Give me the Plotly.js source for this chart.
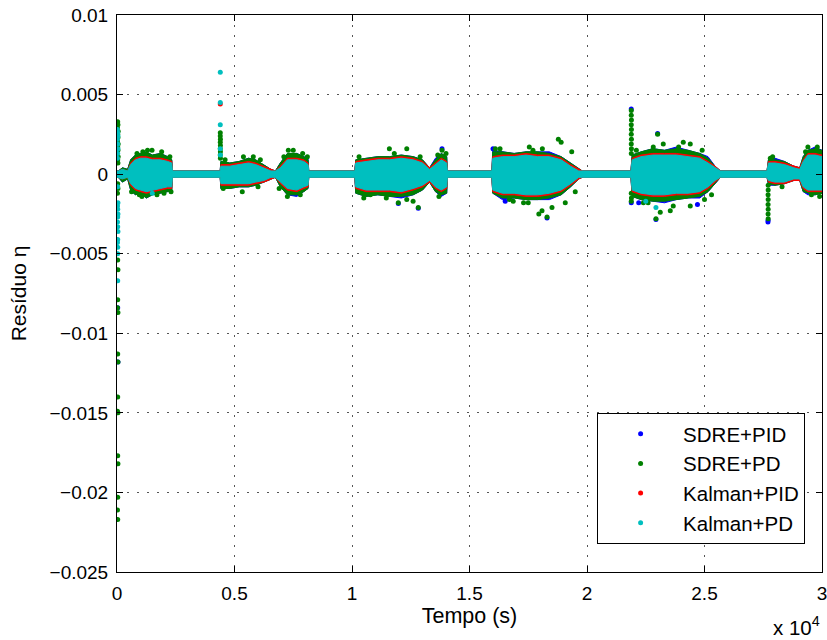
<!DOCTYPE html>
<html><head><meta charset="utf-8">
<script src="https://cdn.plot.ly/plotly-3.0.1.min.js"></script>
<style>html,body{margin:0;padding:0;background:#fff}</style>
</head><body><div id="chart" style="width:827px;height:640px"></div>
<script>
// ---------- data ----------
const seriesNames = ['SDRE+PID', 'SDRE+PD', 'Kalman+PID', 'Kalman+PD'];

// tick positions and labels
const xTickVals = [0, 5000, 10000, 15000, 20000, 25000, 30000];
const xTickLabels = ['0', '0.5', '1', '1.5', '2', '2.5', '3'];
const yTickVals = [0.01, 0.005, 0, -0.005, -0.01, -0.015, -0.02, -0.025];
const yTickLabels = ['0.01', '0.005', '0', '\u22120.005', '\u22120.01', '\u22120.015', '\u22120.02', '\u22120.025'];

// envelope knots (time, s) of the dense residual cloud
const envT = [
  0, 60, 230, 450, 580, 780, 1000, 1250, 1500, 1850, 2150, 2330, 2360,
  4390, 4420, 4800, 5200, 5600, 5900, 6250, 6550, 6740, 6950, 7250, 7650, 7950, 8130, 8160,
  10120, 10160, 10600, 11100, 11600, 12100, 12600, 13000, 13300, 13550, 13800, 14030, 14060,
  15950, 15990, 16400, 16900, 17400, 17900, 18400, 18900, 19300, 19650, 19800,
  21870, 21920, 22300, 22800, 23300, 23800, 24300, 24800, 25150, 25450, 25680,
  27660, 27720, 28000, 28400, 28800, 29050, 29200, 29400, 29700, 30000
];

// SDRE+PID envelope
const sdrePidUp = [
  0.0002, 0.0002, 0.0004, 0.0003, 0.0009, 0.0012, 0.0013, 0.0014, 0.0012, 0.0013, 0.0011, 0.0009, 0.0002,
  0.0002, 0.0008, 0.0007, 0.0008, 0.0010, 0.0009, 0.0006, 0.0003, 0.0002, 0.0007, 0.0013, 0.0013, 0.0011, 0.0010, 0.0002,
  0.0002, 0.0009, 0.0010, 0.0011, 0.0011, 0.0012, 0.0011, 0.0009, 0.0004, 0.0010, 0.0013, 0.0011, 0.0002,
  0.0002, 0.0015, 0.0014, 0.0013, 0.0014, 0.0014, 0.0014, 0.0011, 0.0007, 0.0003, 0.0002,
  0.0002, 0.0012, 0.0014, 0.0016, 0.0015, 0.0017, 0.0015, 0.0013, 0.0011, 0.0005, 0.0002,
  0.0002, 0.0009, 0.0010, 0.0008, 0.0005, 0.0004, 0.0011, 0.0015, 0.0017, 0.0015
];
const sdrePidLo = [
  -0.0002, -0.0002, -0.0005, -0.0003, -0.0010, -0.0013, -0.0012, -0.0015, -0.0013, -0.0012, -0.0011, -0.0010, -0.0002,
  -0.0002, -0.0009, -0.0009, -0.0008, -0.0008, -0.0007, -0.0005, -0.0003, -0.0002, -0.0008, -0.0013, -0.0014, -0.0011, -0.0009, -0.0002,
  -0.0002, -0.0012, -0.0014, -0.0013, -0.0014, -0.0015, -0.0013, -0.0010, -0.0005, -0.0011, -0.0014, -0.0012, -0.0002,
  -0.0002, -0.0012, -0.0016, -0.0015, -0.0016, -0.0016, -0.0016, -0.0013, -0.0008, -0.0003, -0.0002,
  -0.0002, -0.0014, -0.0016, -0.0017, -0.0018, -0.0016, -0.0015, -0.0015, -0.0011, -0.0006, -0.0002,
  -0.0002, -0.0007, -0.0007, -0.0006, -0.0004, -0.0004, -0.0011, -0.0013, -0.0013, -0.0012
];

// SDRE+PD envelope
const sdrePdUp = [
  0.0002, 0.0002, 0.0004, 0.0003, 0.0009, 0.0012, 0.0013, 0.0014, 0.0012, 0.0013, 0.0011, 0.0009, 0.0002,
  0.0002, 0.0008, 0.0007, 0.0008, 0.0010, 0.0009, 0.0006, 0.0003, 0.0002, 0.0007, 0.0013, 0.0013, 0.0011, 0.0009, 0.0002,
  0.0002, 0.0009, 0.0010, 0.0011, 0.0011, 0.0012, 0.0011, 0.0009, 0.0004, 0.0009, 0.0013, 0.0011, 0.0002,
  0.0002, 0.0014, 0.0014, 0.0013, 0.0014, 0.0014, 0.0013, 0.0011, 0.0007, 0.0003, 0.0002,
  0.0002, 0.0012, 0.0014, 0.0016, 0.0015, 0.0016, 0.0015, 0.0013, 0.0010, 0.0005, 0.0002,
  0.0002, 0.0009, 0.0009, 0.0008, 0.0005, 0.0004, 0.0011, 0.0015, 0.0016, 0.0015
];
const sdrePdLo = [
  -0.0002, -0.0002, -0.0005, -0.0003, -0.0010, -0.0013, -0.0012, -0.0015, -0.0013, -0.0012, -0.0011, -0.0010, -0.0002,
  -0.0002, -0.0009, -0.0009, -0.0008, -0.0008, -0.0007, -0.0005, -0.0003, -0.0002, -0.0008, -0.0013, -0.0013, -0.0011, -0.0009, -0.0002,
  -0.0002, -0.0012, -0.0014, -0.0013, -0.0014, -0.0014, -0.0013, -0.0010, -0.0005, -0.0011, -0.0013, -0.0012, -0.0002,
  -0.0002, -0.0012, -0.0015, -0.0015, -0.0016, -0.0016, -0.0015, -0.0013, -0.0008, -0.0003, -0.0002,
  -0.0002, -0.0014, -0.0016, -0.0017, -0.0017, -0.0016, -0.0015, -0.0014, -0.0011, -0.0006, -0.0002,
  -0.0002, -0.0006, -0.0007, -0.0006, -0.0004, -0.0004, -0.0011, -0.0012, -0.0013, -0.0012
];

// Kalman+PID envelope
const kalPidUp = [
  0.0002, 0.0002, 0.0003, 0.0002, 0.0007, 0.0010, 0.0011, 0.0011, 0.0010, 0.0010, 0.0009, 0.0008, 0.0002,
  0.0002, 0.0006, 0.0006, 0.0007, 0.0008, 0.0007, 0.0005, 0.0003, 0.0002, 0.0005, 0.0010, 0.0010, 0.0009, 0.0007, 0.0002,
  0.0002, 0.0008, 0.0009, 0.0010, 0.0010, 0.0011, 0.0010, 0.0008, 0.0004, 0.0007, 0.0010, 0.0008, 0.0002,
  0.0002, 0.0011, 0.0012, 0.0012, 0.0013, 0.0012, 0.0012, 0.0010, 0.0006, 0.0003, 0.0002,
  0.0002, 0.0010, 0.0012, 0.0013, 0.0013, 0.0013, 0.0012, 0.0011, 0.0008, 0.0005, 0.0002,
  0.0002, 0.0008, 0.0008, 0.0007, 0.0005, 0.0004, 0.0009, 0.0013, 0.0013, 0.0012
];
const kalPidLo = [
  -0.0002, -0.0002, -0.0003, -0.0002, -0.0007, -0.0010, -0.0011, -0.0012, -0.0011, -0.0010, -0.0009, -0.0009, -0.0002,
  -0.0002, -0.0007, -0.0007, -0.0007, -0.0007, -0.0006, -0.0005, -0.0003, -0.0002, -0.0006, -0.0010, -0.0011, -0.0009, -0.0008, -0.0002,
  -0.0002, -0.0009, -0.0011, -0.0011, -0.0011, -0.0012, -0.0010, -0.0008, -0.0005, -0.0009, -0.0011, -0.0009, -0.0002,
  -0.0002, -0.0011, -0.0013, -0.0013, -0.0014, -0.0014, -0.0013, -0.0011, -0.0007, -0.0003, -0.0002,
  -0.0002, -0.0011, -0.0013, -0.0014, -0.0014, -0.0013, -0.0013, -0.0012, -0.0009, -0.0005, -0.0002,
  -0.0002, -0.0005, -0.0006, -0.0006, -0.0004, -0.0004, -0.0009, -0.0011, -0.0011, -0.0011
];

// Kalman+PD envelope
const kalPdUp = [
  0.0002, 0.0002, 0.0003, 0.0002, 0.0006, 0.0009, 0.0010, 0.0010, 0.0009, 0.0009, 0.0008, 0.0007, 0.0002,
  0.0002, 0.0005, 0.0005, 0.0006, 0.0007, 0.0006, 0.0004, 0.0002, 0.0002, 0.0004, 0.0009, 0.0009, 0.0008, 0.0006, 0.0002,
  0.0002, 0.0007, 0.0008, 0.0009, 0.0009, 0.0010, 0.0009, 0.0007, 0.0003, 0.0006, 0.0009, 0.0007, 0.0002,
  0.0002, 0.0010, 0.0011, 0.0011, 0.0012, 0.0011, 0.0011, 0.0009, 0.0005, 0.0002, 0.0002,
  0.0002, 0.0009, 0.0011, 0.0012, 0.0012, 0.0012, 0.0011, 0.0010, 0.0007, 0.0004, 0.0002,
  0.0002, 0.0007, 0.0007, 0.0006, 0.0004, 0.0003, 0.0008, 0.0012, 0.0012, 0.0011
];
const kalPdLo = [
  -0.0002, -0.0002, -0.0003, -0.0002, -0.0006, -0.0009, -0.0010, -0.0011, -0.0010, -0.0009, -0.0008, -0.0008, -0.0002,
  -0.0002, -0.0006, -0.0006, -0.0006, -0.0006, -0.0005, -0.0004, -0.0002, -0.0002, -0.0005, -0.0009, -0.0010, -0.0008, -0.0007, -0.0002,
  -0.0002, -0.0008, -0.0010, -0.0010, -0.0010, -0.0011, -0.0009, -0.0007, -0.0004, -0.0008, -0.0010, -0.0008, -0.0002,
  -0.0002, -0.0010, -0.0012, -0.0012, -0.0013, -0.0013, -0.0012, -0.0010, -0.0006, -0.0002, -0.0002,
  -0.0002, -0.0010, -0.0012, -0.0013, -0.0013, -0.0012, -0.0012, -0.0011, -0.0008, -0.0004, -0.0002,
  -0.0002, -0.0004, -0.0005, -0.0005, -0.0003, -0.0003, -0.0008, -0.0010, -0.0010, -0.0010
];

// isolated samples outside the dense cloud
const sdrePidPtT = [30, 40, 21884, 21884, 27700, 27705, 13830, 16520, 24700, 22934, 11970, 23005, 12820, 18300, 16000, 22200];
const sdrePidPtY = [-0.0084, -0.0118, 0.0041, -0.0018, -0.0030, -0.0029, 0.0016, -0.0017, -0.0019, -0.00285, -0.00185, 0.00255, -0.00215, -0.00275, 0.0016, -0.0018];

const sdrePdPtT = [
  30, 40, 20, 50, 30, 40, 20, 50, 30, 40, 20, 50, 30, 40, 30, 40, 20,
  30, 40, 30, 20, 40, 30, 40, 30, 20, 40, 30, 40, 30, 20, 30,
  4395, 4395, 4400, 4395, 4400, 4395, 4400, 4395, 4400,
  1100, 1490, 1300, 950, 1060, 1700, 2000, 1900, 620, 2250, 2300, 850,
  5380, 5800, 4520, 5330, 7290, 7500, 7250, 7800, 7900, 4600, 6100, 6900, 8100, 7100, 6000,
  11590, 12330, 13830, 13650, 11970, 12820, 12330, 12600, 10780, 11460, 10300, 10500, 12900, 13700, 14000, 11800,
  18780, 18900, 17545, 19350, 16300, 18300, 18085, 17950, 18510, 16860, 19075, 17300, 16100, 16700, 17700, 19500, 18100, 17500,
  23005, 23245, 24096, 24394, 22820, 22934, 23117, 23543, 23670, 24394, 22400, 22100, 22600, 24900, 25300, 25000, 23900,
  21884, 21884, 21890, 21884, 21890, 21884, 21890, 21884, 21890, 21884, 21884, 21890, 21884,
  27710, 27710, 27705, 27710, 27705, 27710, 27705, 27710,
  29400, 29800, 29550, 27800, 27900, 28300, 29300, 29900
];
const sdrePdPtY = [
  0.0033, 0.0031, 0.0029, 0.0027, 0.0025, 0.0023, 0.0021, 0.0019, 0.0017, 0.0015, 0.0013, 0.0011, 0.0009, 0.0007, -0.0006, -0.0009, -0.0012,
  -0.0054, -0.0060, -0.0079, -0.0084, -0.0087, -0.0113, -0.0118, -0.0140, -0.0149, -0.0150, -0.0177, -0.0182, -0.0203, -0.0211, -0.0217,
  0.0026, 0.0024, 0.0022, 0.0020, 0.0018, 0.0016, 0.0014, 0.0012, 0.0010,
  0.0014, 0.0015, 0.0015, -0.0013, -0.0014, -0.0013, -0.0012, 0.0014, -0.0011, 0.0011, -0.0011, 0.0013,
  0.0011, 0.0011, -0.0009, -0.0011, 0.0015, 0.0015, -0.0014, -0.0013, 0.0013, 0.0009, 0.0009, -0.0009, 0.0011, 0.0011, -0.0008,
  0.0016, 0.0016, 0.0015, 0.0012, -0.0018, -0.0021, -0.0016, -0.0017, -0.0013, -0.0015, 0.0011, -0.0015, 0.0011, -0.0014, 0.0013, 0.0013,
  0.0022, 0.0020, 0.0017, 0.0014, 0.0016, -0.0027, -0.0023, -0.0025, -0.0021, -0.0017, -0.0018, -0.0018, 0.0016, -0.0016, 0.0015, -0.0011, 0.0016, -0.0018,
  0.0025, 0.0019, 0.0020, 0.0019, 0.0017, -0.0028, -0.0024, -0.0023, -0.0020, -0.0020, -0.0018, 0.0015, -0.0018, 0.0015, -0.0013, -0.0016, 0.0017,
  0.0040, 0.0037, 0.0034, 0.0031, 0.0028, 0.0025, 0.0022, 0.0019, 0.0016, 0.0013, -0.0012, -0.0015, -0.0017,
  -0.0007, -0.0010, -0.0013, -0.0016, -0.0019, -0.0022, -0.0025, -0.0028,
  0.0017, 0.0017, -0.0013, 0.0010, 0.0011, -0.0008, 0.0014, -0.0014
];

const kalPidPtT = [4395];
const kalPidPtY = [0.0044];

const kalPdPtT = [
  20, 30, 40, 20, 30, 40, 30, 20, 30, 40, 20, 30, 40, 30, 20, 30, 40, 30, 20, 30, 30, 30,
  4395, 4395, 4395, 4395, 4400,
  1500, 22934, 22500
];
const kalPdPtY = [
  0.0028, 0.0026, 0.0024, 0.0022, 0.0019, 0.0016, 0.0013, 0.0010, -0.0008, -0.0018, -0.0020, -0.0022, -0.0025, -0.0027, -0.0030, -0.0033, -0.0036, -0.0041, -0.0043, -0.0046, -0.0050, -0.0067,
  0.0064, 0.0045, 0.0031, 0.0016, 0.0012,
  -0.0012, -0.0021, -0.0017
];

// ---------- styles ----------
const colors = ['#0000ff', '#008000', '#ff0000', '#00bfbf'];
const FONT = 'Liberation Sans, Arial, Helvetica, sans-serif';

const envUp = [sdrePidUp, sdrePdUp, kalPidUp, kalPdUp];
const envLo = [sdrePidLo, sdrePdLo, kalPidLo, kalPdLo];
const ptT = [sdrePidPtT, sdrePdPtT, kalPidPtT, kalPdPtT];
const ptY = [sdrePidPtY, sdrePdPtY, kalPidPtY, kalPdPtY];

const traces = [];
for (let i = 0; i < 4; i++) {
  traces.push({
    type: 'scatter', mode: 'lines',
    x: envT.concat(envT.slice().reverse()),
    y: envUp[i].concat(envLo[i].slice().reverse()),
    fill: 'toself', fillcolor: colors[i],
    line: {color: colors[i], width: 1},
    legendgroup: 'g' + i, showlegend: false, hoverinfo: 'skip'
  });
  traces.push({
    type: 'scatter', mode: 'markers',
    x: ptT[i], y: ptY[i], name: seriesNames[i],
    marker: {color: colors[i], size: 5},
    legendgroup: 'g' + i, showlegend: true
  });
}

const layout = {
  width: 827, height: 640,
  margin: {l: 117, r: 5, t: 15, b: 68},
  paper_bgcolor: '#fff', plot_bgcolor: '#fff',
  font: {family: FONT, size: 19, color: '#000'},
  showlegend: true,
  legend: {
    x: 0.681, y: 0.2855, xanchor: 'left', yanchor: 'top',
    bgcolor: '#fff', bordercolor: '#000', borderwidth: 1,
    font: {family: FONT, size: 20.5, color: '#000'},
    itemwidth: 75, traceorder: 'normal'
  },
  xaxis: {
    range: [0, 30000], tickvals: xTickVals, ticktext: xTickLabels,
    ticks: 'inside', ticklen: 6, tickcolor: '#000', mirror: 'ticks',
    showline: true, linecolor: '#000', linewidth: 1,
    showgrid: true, gridcolor: '#555', gridwidth: 1, griddash: '2px,8px',
    zeroline: false, ticklabelstandoff: 4, ticklabeloverflow: 'allow',
    tickfont: {family: FONT, size: 19, color: '#000'},
    title: {text: 'Tempo (s)', font: {family: FONT, size: 21.5, color: '#000'}, standoff: 0}
  },
  yaxis: {
    range: [-0.025, 0.01], tickvals: yTickVals, ticktext: yTickLabels,
    ticks: 'inside', ticklen: 6, tickcolor: '#000', mirror: 'ticks',
    showline: true, linecolor: '#000', linewidth: 1,
    showgrid: true, gridcolor: '#555', gridwidth: 1, griddash: '2px,8px',
    zeroline: false, ticklabelstandoff: 4, ticklabeloverflow: 'allow',
    tickfont: {family: FONT, size: 19, color: '#000'},
    title: {text: 'Resíduo η', font: {family: FONT, size: 21, color: '#000'}, standoff: 17}
  },
  annotations: [{
    xref: 'paper', yref: 'paper', x: 1, y: -0.097, xanchor: 'right', yanchor: 'middle',
    text: 'x 10<sup>4</sup>', showarrow: false,
    font: {family: FONT, size: 20.5, color: '#000'}
  }]
};

Plotly.newPlot('chart', traces, layout, {displayModeBar: false, staticPlot: true});
</script>
</body></html>
